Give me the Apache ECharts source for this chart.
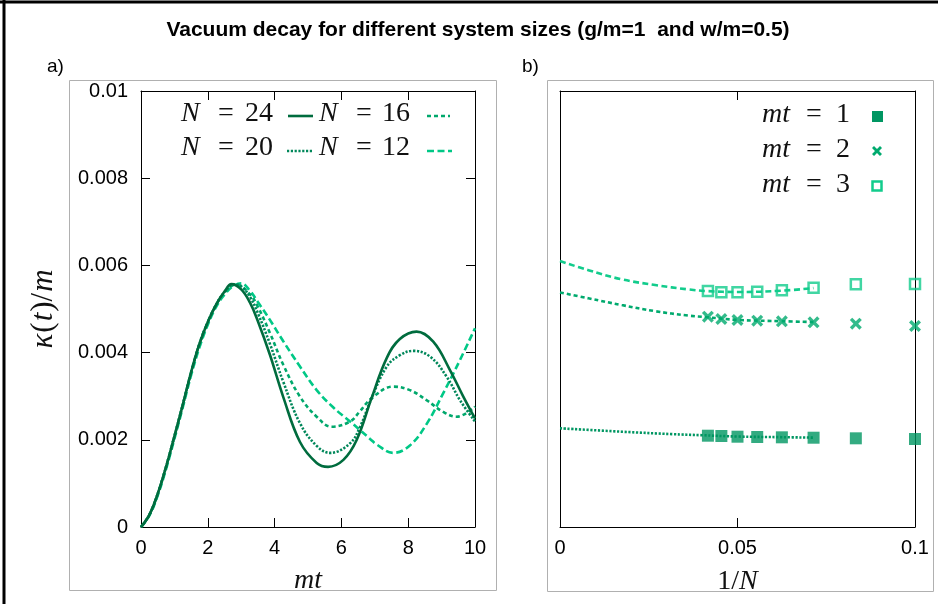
<!DOCTYPE html>
<html>
<head>
<meta charset="utf-8">
<script src="https://cdn.jsdelivr.net/npm/echarts@6/dist/echarts.min.js"></script>
<style>html,body{margin:0;padding:0;background:#fff}#c{width:938px;height:604px}</style>
</head>
<body>
<div id="c"></div>
<script>
// ---- Panel a: kappa(t)/m (units of 1e-3) vs mt ----
const tN24 = [0,0.25,0.5,0.75,1,1.25,1.5,1.75,2,2.25,2.5,2.71,3,3.26,3.5,3.86,4.26,4.76,5.26,5.6,6.06,6.46,6.9,7.36,7.75,8.25,8.75,9.25,9.65,10];
const kN24 = [0,0.28,0.76,1.38,2.08,2.80,3.55,4.2,4.7,5.1,5.4,5.57,5.45,5.15,4.72,3.95,2.98,1.95,1.47,1.38,1.54,2.0,2.95,3.88,4.31,4.48,4.25,3.60,2.99,2.49];
const tN20 = [0,0.25,0.5,0.75,1,1.25,1.5,1.75,2,2.25,2.5,2.78,3,3.26,3.5,3.86,4.26,4.76,5.26,5.66,6.26,6.56,6.9,7.36,7.75,8.15,8.65,9.15,9.55,10];
const kN20 = [0,0.28,0.76,1.38,2.08,2.80,3.55,4.2,4.7,5.1,5.39,5.56,5.52,5.28,4.9,4.2,3.33,2.38,1.86,1.70,1.92,2.3,2.95,3.68,3.94,4.04,3.91,3.45,2.91,2.42];
const tN16 = [0,0.25,0.5,0.75,1,1.25,1.5,1.75,2,2.25,2.5,2.85,3.26,3.5,3.86,4.26,4.76,5.26,5.71,6.26,6.56,6.9,7.55,8.05,8.55,9.05,9.45,10];
const kN16 = [0,0.28,0.76,1.38,2.08,2.80,3.55,4.2,4.7,5.1,5.37,5.56,5.34,5.05,4.45,3.72,2.99,2.53,2.30,2.42,2.66,2.95,3.22,3.14,2.91,2.64,2.53,2.76];
const tN12 = [0,0.25,0.5,0.75,1,1.25,1.5,1.75,2,2.25,2.5,2.75,3.0,3.26,3.5,3.86,4.26,4.76,5.26,5.76,6.26,6.56,6.86,7.06,7.55,8.05,8.55,9.05,9.55,10];
const kN12 = [0,0.26,0.72,1.33,2.02,2.74,3.48,4.12,4.64,5.05,5.33,5.52,5.59,5.42,5.16,4.75,4.26,3.68,3.14,2.74,2.42,2.22,2.02,1.89,1.70,1.87,2.36,3.07,3.83,4.56];
const yTickLabels = ['0','0.002','0.004','0.006','0.008','0.01'];
const xTickLabelsA = ['0','2','4','6','8','10'];

// ---- Panel b: kappa/m (units of 1e-3) vs 1/N ----
const sizesB = [24,22,20,18,16,14,12,10];
const mt1Vals = [2.094,2.087,2.071,2.064,2.057,2.048,2.034,2.018];
const mt2Vals = [4.823,4.771,4.748,4.732,4.718,4.695,4.663,4.610];
const mt3Vals = [5.413,5.383,5.383,5.397,5.429,5.489,5.567,5.573];
const fit1X = [0,0.0174,0.0315,0.04,0.05,0.0625,0.0714];
const fit1Y = [2.264,2.186,2.13,2.105,2.075,2.06,2.05];
const fit23X = [0,0.008,0.0174,0.0268,0.0361,0.0416,0.05,0.0625,0.0714];
const fit2Y = [5.38,5.245,5.09,4.95,4.85,4.81,4.75,4.72,4.70];
const fit3Y = [6.10,5.89,5.68,5.55,5.45,5.41,5.39,5.42,5.48];
const xTickLabelsB = ['0','0.05','0.1'];

const C24='#006c3e', C20='#00875a', C16='#00a86c', C12='#00c886';
const M1='#009662', M2='#00aa6e', M3='#12cc8c';
const SANS='"Liberation Sans", Arial, sans-serif';
const SERIF='"Liberation Serif", "DejaVu Serif", serif';

const pairs = (xs, ys) => xs.map((x,i)=>[x, ys[i]]);
const invPairs = (ys) => sizesB.map((n,i)=>[1/n, ys[i]]);
const CROSS = 'path://M0,2L2,0L5,3L8,0L10,2L7,5L10,8L8,10L5,7L2,10L0,8L3,5Z';
function crossPoints(cx, cy, s){
  const p=[[0,2],[2,0],[5,3],[8,0],[10,2],[7,5],[10,8],[8,10],[5,7],[2,10],[0,8],[3,5]];
  return p.map(([x,y])=>[cx+(x-5)*s/10, cy+(y-5)*s/10]);
}

const chart = echarts.init(document.getElementById('c'), null, {renderer:'canvas'});

const axisLineBlack = {show:true, onZero:false, lineStyle:{color:'#000', width:1}};
const tickIn = {show:true, inside:true, length:9, lineStyle:{color:'#000', width:1}};
const labelStyle = {color:'#000', fontSize:20, fontFamily:SANS};
const nameRich = {
  i:{fontFamily:SERIF, fontStyle:'italic', fontSize:28, color:'#111'},
  r:{fontFamily:SERIF, fontSize:28, color:'#111'}
};
const nameRichY = {
  i:{fontFamily:SERIF, fontStyle:'italic', fontSize:31, color:'#111'},
  r:{fontFamily:SERIF, fontSize:31, color:'#111', padding:[0,1,0,1]}
};

function lineSeries(name, data, color, type, xi, yi){
  return {name, type:'line', xAxisIndex:xi, yAxisIndex:yi, data, smooth:0.4, showSymbol:false,
    symbol:'none', lineStyle:{color, width:2.6, type}, z:3, animation:false};
}
const LF = '28px '+SERIF, LFI = 'italic 28px '+SERIF;
function txt(x, y, t, font, align){
  return {type:'text', x, y, style:{text:t, font, fill:'#111', align:align||'left', verticalAlign:'middle'}};
}

const option = {
  animation:false,
  grid:[
    {left:141, top:91, width:334, height:436, show:false},
    {left:560, top:91, width:355, height:436, show:false}
  ],
  xAxis:[
    {gridIndex:0, type:'value', min:0, max:10, interval:2, position:'bottom',
     axisLine:axisLineBlack, axisTick:tickIn, splitLine:{show:false},
     axisLabel:{...labelStyle, margin:11, formatter:(v)=>xTickLabelsA[Math.round(v/2)]},
     name:'{i|mt}', nameLocation:'middle', nameGap:40, nameTextStyle:{rich:nameRich}},
    {gridIndex:0, type:'value', min:0, max:10, interval:2, position:'top',
     axisLine:axisLineBlack, axisTick:tickIn, axisLabel:{show:false}, splitLine:{show:false}},
    {gridIndex:1, type:'value', min:0, max:0.1, interval:0.05, position:'bottom',
     axisLine:axisLineBlack, axisTick:tickIn, splitLine:{show:false},
     axisLabel:{...labelStyle, margin:11, formatter:(v)=>xTickLabelsB[Math.round(v/0.05)]},
     name:'{r|1/}{i|N}', nameLocation:'middle', nameGap:41, nameTextStyle:{rich:nameRich}},
    {gridIndex:1, type:'value', min:0, max:0.1, interval:0.05, position:'top',
     axisLine:axisLineBlack, axisTick:tickIn, axisLabel:{show:false}, splitLine:{show:false}}
  ],
  yAxis:[
    {gridIndex:0, type:'value', min:0, max:10, interval:2, position:'left',
     axisLine:axisLineBlack, axisTick:tickIn, splitLine:{show:false},
     axisLabel:{...labelStyle, margin:13, formatter:(v)=>yTickLabels[Math.round(v/2)]},
     name:'{i|κ}{r|(}{i|t}{r|)/}{i|m}', nameLocation:'middle', nameGap:82, nameRotate:90,
     nameTextStyle:{rich:nameRichY}},
    {gridIndex:0, type:'value', min:0, max:10, interval:2, position:'right',
     axisLine:axisLineBlack, axisTick:tickIn, axisLabel:{show:false}, splitLine:{show:false}},
    {gridIndex:1, type:'value', min:0, max:10, interval:2, position:'left',
     axisLine:axisLineBlack, axisTick:{show:false}, axisLabel:{show:false}, splitLine:{show:false}},
    {gridIndex:1, type:'value', min:0, max:10, interval:2, position:'right',
     axisLine:axisLineBlack, axisTick:{show:false}, axisLabel:{show:false}, splitLine:{show:false}}
  ],
  series:[
    lineSeries('N=12', pairs(tN12,kN12), C12, [7,3.5], 0, 0),
    lineSeries('N=16', pairs(tN16,kN16), C16, [4,3], 0, 0),
    lineSeries('N=20', pairs(tN20,kN20), C20, [2.2,1.6], 0, 0),
    lineSeries('N=24', pairs(tN24,kN24), C24, 'solid', 0, 0),
    lineSeries('fit1', pairs(fit1X,fit1Y), M1, [2.2,1.6], 2, 2),
    lineSeries('fit2', pairs(fit23X,fit2Y), M2, [4,3], 2, 2),
    lineSeries('fit3', pairs(fit23X,fit3Y), M3, [6,3.5], 2, 2),
    {name:'mt=1', type:'scatter', xAxisIndex:2, yAxisIndex:2, data:invPairs(mt1Vals),
     symbol:'rect', symbolSize:12, itemStyle:{color:M1}, z:4},
    {name:'mt=2', type:'scatter', xAxisIndex:2, yAxisIndex:2, data:invPairs(mt2Vals),
     symbol:CROSS, symbolSize:12, itemStyle:{color:M2}, z:4},
    {name:'mt=3', type:'scatter', xAxisIndex:2, yAxisIndex:2, data:invPairs(mt3Vals),
     symbol:'rect', symbolSize:10, itemStyle:{color:'rgba(255,255,255,0)', borderColor:M3, borderWidth:2.5}, z:4}
  ],
  graphic:[
    {type:'line', shape:{x1:0,y1:2,x2:938,y2:2}, style:{stroke:'#000', lineWidth:3}, silent:true},
    {type:'line', shape:{x1:4,y1:0,x2:4,y2:604}, style:{stroke:'#000', lineWidth:3}, silent:true},
    {type:'rect', shape:{x:69.5,y:80.5,width:427,height:510}, style:{fill:'none', stroke:'#b0b0b0', lineWidth:1}, silent:true},
    {type:'rect', shape:{x:547.5,y:80.5,width:386,height:511}, style:{fill:'none', stroke:'#b0b0b0', lineWidth:1}, silent:true},
    {type:'text', x:478, y:30, style:{text:'Vacuum decay for different system sizes (g/m=1  and w/m=0.5)', font:'bold 21px '+SANS, fill:'#000', align:'center', verticalAlign:'middle'}},
    {type:'text', x:47, y:67, style:{text:'a)', font:'19px '+SANS, fill:'#000', align:'left', verticalAlign:'middle'}},
    {type:'text', x:522, y:67, style:{text:'b)', font:'19px '+SANS, fill:'#000', align:'left', verticalAlign:'middle'}},
    // legend a
    txt(181,114,'N',LFI), txt(226,114,'=',LF,'center'), txt(273,114,'24',LF,'right'),
    {type:'line', shape:{x1:288,y1:116,x2:313,y2:116}, style:{stroke:C24, lineWidth:2.6}},
    txt(319,114,'N',LFI), txt(364,114,'=',LF,'center'), txt(410,114,'16',LF,'right'),
    {type:'line', shape:{x1:427,y1:116,x2:450,y2:116}, style:{stroke:C16, lineWidth:2.6, lineDash:[4,3]}},
    txt(181,148,'N',LFI), txt(226,148,'=',LF,'center'), txt(273,148,'20',LF,'right'),
    {type:'line', shape:{x1:287,y1:151,x2:312,y2:151}, style:{stroke:C20, lineWidth:2.6, lineDash:[2.2,1.6]}},
    txt(319,148,'N',LFI), txt(364,148,'=',LF,'center'), txt(410,148,'12',LF,'right'),
    {type:'line', shape:{x1:427,y1:151,x2:452,y2:151}, style:{stroke:C12, lineWidth:2.6, lineDash:[7,3.5]}},
    // legend b
    txt(762,115,'mt',LFI), txt(814,115,'=',LF,'center'), txt(850,115,'1',LF,'right'),
    {type:'rect', shape:{x:872,y:111,width:11,height:11}, style:{fill:M1}},
    txt(762,150,'mt',LFI), txt(814,150,'=',LF,'center'), txt(850,150,'2',LF,'right'),
    {type:'polygon', shape:{points:crossPoints(877,151,10)}, style:{fill:M2}},
    txt(762,185,'mt',LFI), txt(814,185,'=',LF,'center'), txt(850,185,'3',LF,'right'),
    {type:'rect', shape:{x:872.5,y:181.5,width:9,height:9}, style:{fill:'#fff', stroke:M3, lineWidth:2.5}}
  ]
};
chart.setOption(option);
</script>
</body>
</html>
